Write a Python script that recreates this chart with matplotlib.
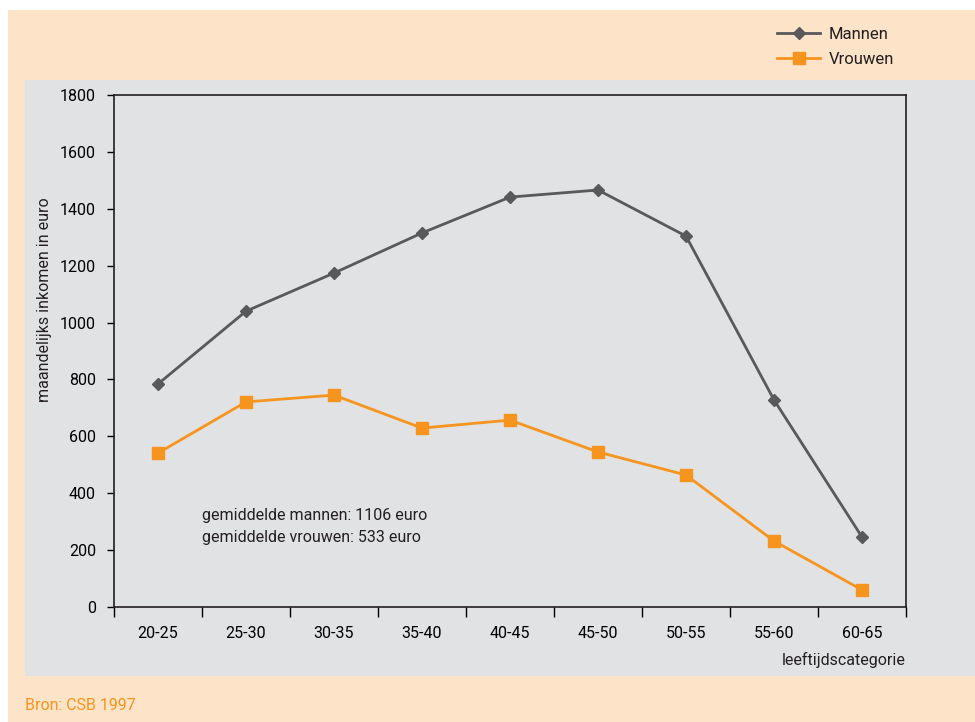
import matplotlib.pyplot as plt
from matplotlib.patches import Rectangle

# maandelijks inkomen per leeftijdscategorie (CSB 1997)
categories = ['20-25', '25-30', '30-35', '35-40', '40-45', '45-50', '50-55', '55-60', '60-65']
mannen = [784, 1040, 1174, 1315, 1441, 1466, 1304, 728, 246]
vrouwen = [541, 721, 745, 629, 657, 545, 464, 232, 60]
gem_mannen = 1106
gem_vrouwen = 533

peach = '#FDE3C8'
panel = '#E1E2E4'
dark = '#58595B'
orange = '#F7941D'

plt.rcParams['font.family'] = ['Roboto', 'DejaVu Sans']
plt.rcParams['font.size'] = 11.5
plt.rcParams['text.color'] = '#231F20'

W, H = 975, 722
fig = plt.figure(figsize=(W / 100, H / 100), dpi=100, facecolor='white')

def px(x0, y0, x1, y1):
    # pixel box -> figure fraction [left, bottom, width, height]
    return [x0 / W, 1 - y1 / H, (x1 - x0) / W, (y1 - y0) / H]

# achtergrondvlakken
b = px(8, 10, 975, 722)
fig.patches.append(Rectangle((b[0], b[1]), b[2], b[3], transform=fig.transFigure,
                             facecolor=peach, edgecolor='none', zorder=-2))
b = px(25, 80, 975, 676)
fig.patches.append(Rectangle((b[0], b[1]), b[2], b[3], transform=fig.transFigure,
                             facecolor=panel, edgecolor='none', zorder=-1))

ax = fig.add_axes(px(114, 95, 906, 607))
ax.set_facecolor('none')
ax.set_zorder(2)

x = [i + 0.5 for i in range(len(categories))]
ax.plot(x, mannen, color=dark, lw=2, marker='D', ms=6, label='Mannen', clip_on=False)
ax.plot(x, vrouwen, color=orange, lw=2, marker='s', ms=9, label='Vrouwen', clip_on=False)

ax.set_xlim(0, len(categories))
ax.set_ylim(0, 1800)
ax.set_yticks(range(0, 1801, 200))
ax.set_xticks(range(len(categories) + 1))
ax.set_xticklabels([])
ax.set_xticks(x, minor=True)
ax.set_xticklabels(categories, minor=True)
ax.tick_params(axis='x', which='major', length=7, width=1, direction='out')
ax.tick_params(axis='x', which='minor', length=0, pad=14)
ax.tick_params(axis='y', length=5, width=1, pad=8)
for s in ax.spines.values():
    s.set_color('#231F20')
    s.set_linewidth(1.2)

ax.text(1.0, 323, f'gemiddelde mannen: {gem_mannen} euro', va='center')
ax.text(1.0, 246, f'gemiddelde vrouwen: {gem_vrouwen} euro', va='center')

fig.text(45 / W, 1 - 300 / H, 'maandelijks inkomen in euro', rotation=90,
         ha='center', va='center')
fig.text(906 / W, 1 - 660 / H, 'leeftijdscategorie', ha='right', va='center')
fig.text(25 / W, 1 - 706 / H, 'Bron: CSB 1997', color=orange, ha='left', va='center')

h, l = ax.get_legend_handles_labels()
leg = fig.legend(h, l, loc='upper left', bbox_to_anchor=(762 / W, 1 - 12 / H), frameon=False,
                 handlelength=2.6, handletextpad=0.5, labelspacing=0.6, fontsize=12)
leg.set_zorder(3)

fig.savefig('out.png', dpi=100, facecolor='white')
